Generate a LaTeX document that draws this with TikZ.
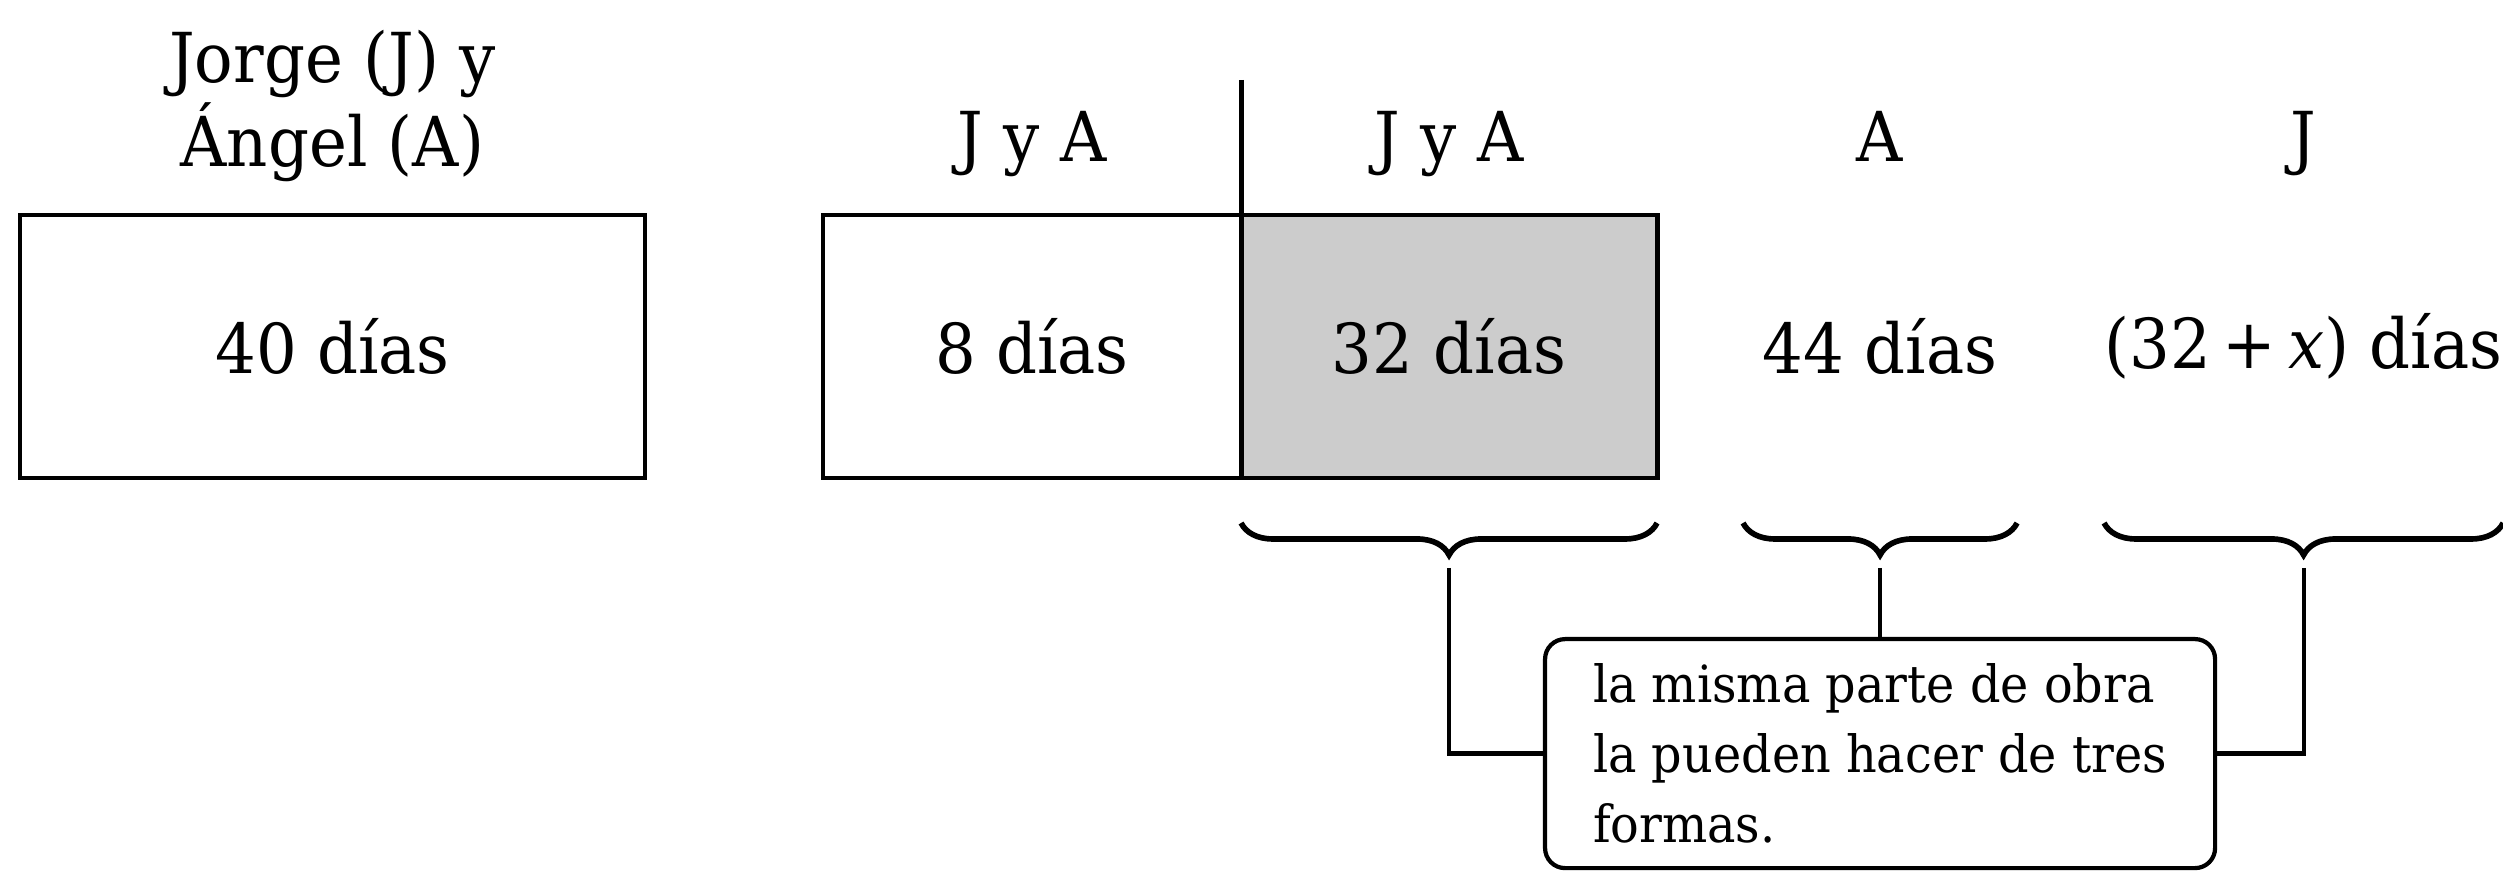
\documentclass[tikz,border=0pt]{standalone}
\usepackage{fontspec}
\setmainfont{DejaVu Serif}[FakeStretch=0.93]
\usetikzlibrary{positioning, decorations.pathreplacing}

\begin{document}
\begin{tikzpicture}[x=0.05mm, y=-0.05mm, every node/.style={font=\fontsize{9.8}{11.95}\selectfont},
		tramo/.style={outer sep=0pt, inner sep=0pt, minimum height=13.15mm},
		cajon/.style={tramo, draw, line width=0.7pt},
		etiqueta/.style={inner sep=0pt, align=center},
		llave/.style={decorate, decoration={brace, mirror, amplitude=1.6mm, raise=2.25mm}, line width=0.8pt},
		nota/.style={draw, line width=0.6pt, rounded corners=1mm, align=left, minimum width=33.5mm, minimum height=11.45mm, font=\fontsize{7.3}{9.96}\selectfont}]
	\useasboundingbox (0,0) rectangle (2503,871);
	
	% Boxes and the two free slots
	\node[cajon, minimum width=31.25mm] (total) at (332.5,346.5) {40 días};
	\node[cajon, minimum width=20.9mm, right=8.9mm of total] (ocho) {8 días};
	\node[cajon, minimum width=20.8mm, fill=black!20, right=0pt of ocho] (sombra) {32 días};
	\node[tramo, minimum width=13.7mm, right=4.3mm of sombra] (soloA) {44 días};
	\node[tramo, minimum width=19.95mm, right=4.35mm of soloA] (soloJ) {(32\,+\,\textit{x}) días};
	
	% Labels above the slots
	\node[etiqueta, above=1.6mm of total] (pareja) {Jorge (J) y\\Ángel (A)};
	\node[etiqueta, above=2.65mm of ocho.north, anchor=base] (labOcho) {J y A};
	\node[etiqueta, above=2.65mm of sombra.north, anchor=base] (labSombra) {J y A};
	\node[etiqueta, above=2.65mm of soloA.north, anchor=base] (labA) {A};
	\node[etiqueta, above=2.65mm of soloJ.north, anchor=base] (labJ) {J};
	
	% Divider line over the shared edge
	\coordinate[above=6.75mm of sombra.north west] (tope);
	\draw[line width=0.7pt] (tope) -- (sombra.north west);
	
	% Braces under the three ways
	\draw[llave] (sombra.south west) -- (sombra.south east);
	\draw[llave] (soloA.south west) -- (soloA.south east);
	\draw[llave] (soloJ.south west) -- (soloJ.south east);
	
	% Note and its connectors
	\node[nota, below=7.95mm of soloA] (texto) {la misma parte de obra\\la pueden hacer de tres\\formas.};
	\coordinate[below=4.5mm of sombra.south] (pico1);
	\coordinate[below=4.5mm of soloA.south] (pico2);
	\coordinate[below=4.5mm of soloJ.south] (pico3);
	\draw[line width=0.6pt] (pico1) |- (texto.west);
	\draw[line width=0.6pt] (pico2) -- (texto.north);
	\draw[line width=0.6pt] (pico3) |- (texto.east);
\end{tikzpicture}
\end{document}
